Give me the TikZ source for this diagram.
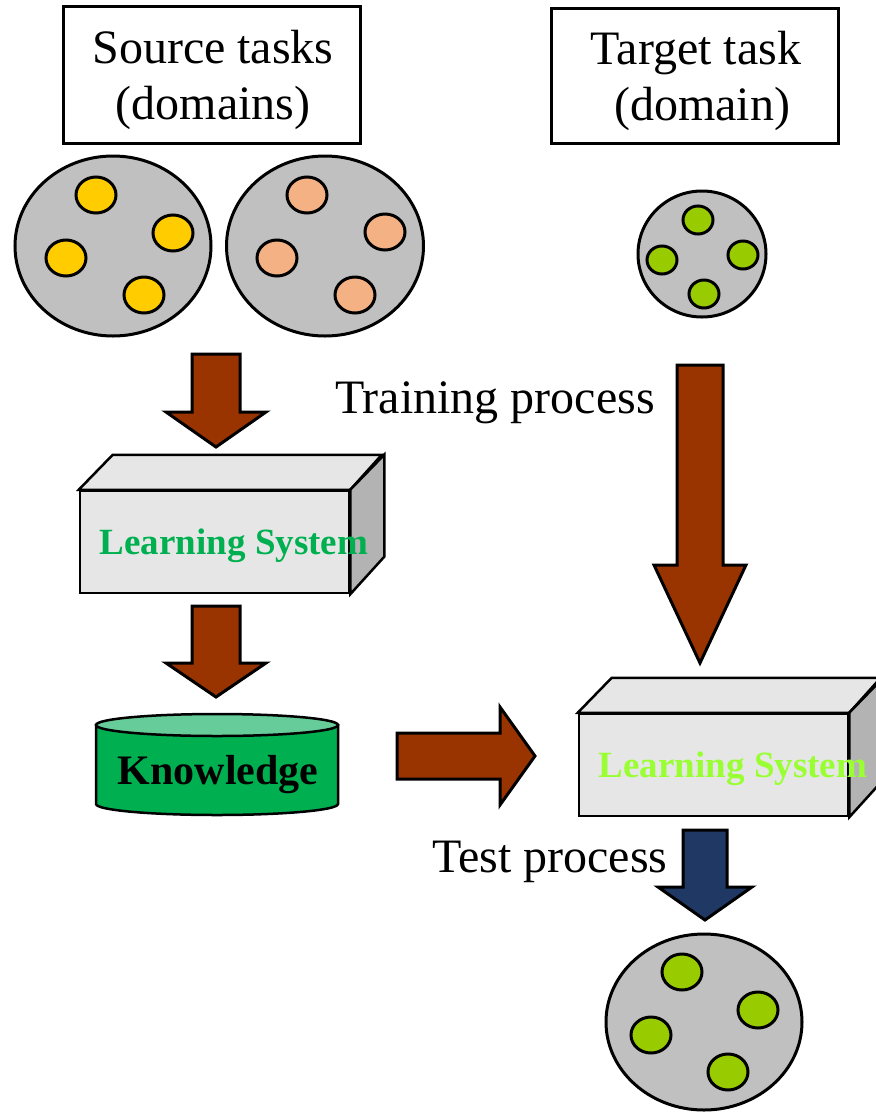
\documentclass[tikz,border=0pt]{standalone}
\usepackage{fontspec}
\setmainfont{Liberation Serif}
\usetikzlibrary{shapes.geometric}

\definecolor{poolgray}{HTML}{C0C0C0}
\definecolor{srcyellow}{HTML}{FFCC00}
\definecolor{srcsalmon}{HTML}{F4B183}
\definecolor{tgtgreen}{HTML}{99CC00}
\definecolor{arrowbrown}{HTML}{993300}
\definecolor{arrownavy}{HTML}{1F3864}
\definecolor{boxfront}{HTML}{E6E6E6}
\definecolor{boxside}{HTML}{B3B3B3}
\definecolor{knowgreen}{HTML}{00B050}
\definecolor{knowtop}{HTML}{66CC99}
\definecolor{lsgreen}{HTML}{00B050}
\definecolor{lslime}{HTML}{99FF33}

\tikzset{
    titlebox/.style={draw, line width=3pt, fill=white, inner sep=0pt},
    titletext/.style={align=center, inner sep=0pt, font=\fontsize{48}{56}\selectfont},
    pool/.style={ellipse, draw, line width=3pt, fill=poolgray, inner sep=0pt},
    sample/.style={ellipse, draw, line width=3pt, inner sep=0pt, fill=#1,
        minimum width=40pt, minimum height=36pt},
    smallsample/.style={sample=#1, minimum width=30pt, minimum height=28pt},
    blockarrow/.style={draw, line width=3pt, line join=miter},
    lsface/.style={draw, line width=2.5pt, fill=boxfront},
    lstext/.style={font=\bfseries\fontsize{37}{40}\selectfont},
    proc/.style={font=\fontsize{48}{56}\selectfont, inner sep=0pt}
}

% down block arrow: x, top, head start, tip, half shaft, half head, colour
\newcommand{\downblock}[7]{%
    \filldraw[blockarrow, fill=#7] (#1-#5,#2) -- (#1+#5,#2) -- (#1+#5,#3) -- (#1+#6,#3)
        -- (#1,#4) -- (#1-#6,#3) -- (#1-#5,#3) -- cycle;}

% learning system box: front node name, centre x, centre y
\newcommand{\lsbox}[3]{%
    \node[lsface, minimum width=269pt, minimum height=102pt, inner sep=0pt] (#1) at (#2,#3) {};
    \filldraw[lsface] (#1.north west) -- ++(34,35) -- ++(269,0) -- (#1.north east) -- cycle;
    \filldraw[lsface, fill=boxside] (#1.north east) -- ++(34,35) -- ++(0,-102) -- (#1.south east) -- cycle;}

\begin{document}
\begin{tikzpicture}[x=1pt,y=1pt]
    \useasboundingbox (0,0) rectangle (876,-1112);

    % titles
    \node[titlebox, minimum width=297pt, minimum height=137pt] (srctitle) at (211.5,-74.5) {};
    \node[titletext] (srclabel) at (213,-80) {Source tasks\\(domains)};
    \node[titlebox, minimum width=287pt, minimum height=135pt] (tgttitle) at (694.5,-75.5) {};
    \node[titletext] (tgtlabel) at (696,-81) {Target task\\\ (domain)};

    % source domains
    \node[pool, minimum width=196pt, minimum height=180pt] (src1) at (113,-246) {};
    \node[sample=srcyellow] (s11) at (96,-195) {};
    \node[sample=srcyellow] (s12) at (173,-233) {};
    \node[sample=srcyellow] (s13) at (66,-258) {};
    \node[sample=srcyellow] (s14) at (144,-295) {};
    \node[pool, minimum width=197pt, minimum height=180pt] (src2) at (325,-246) {};
    \node[sample=srcsalmon] (s21) at (307,-195) {};
    \node[sample=srcsalmon] (s22) at (385,-232) {};
    \node[sample=srcsalmon] (s23) at (277,-258) {};
    \node[sample=srcsalmon] (s24) at (355,-295) {};

    % target domain
    \node[pool, minimum width=128pt, minimum height=126pt] (tgt) at (702,-254) {};
    \node[smallsample=tgtgreen] (t1) at (698,-220) {};
    \node[smallsample=tgtgreen] (t2) at (743,-255) {};
    \node[smallsample=tgtgreen] (t3) at (662,-260) {};
    \node[smallsample=tgtgreen] (t4) at (704,-294) {};

    % left column
    \downblock{216}{-354}{-412}{-447}{24}{50}{arrowbrown}
    \lsbox{ls1}{214.5}{-542}
    \node[lstext, text=lsgreen] (ls1text) at (234,-546) {Learning System};
    \downblock{216}{-606}{-663}{-697}{24}{50}{arrowbrown}

    % knowledge
    \filldraw[line width=2.5pt, fill=knowgreen] (96,-725) -- (96,-804)
        arc[start angle=180, end angle=360, x radius=121pt, y radius=11pt] -- (338,-725) -- cycle;
    \filldraw[line width=2.5pt, fill=knowtop] (217,-725) ellipse[x radius=121pt, y radius=11pt];
    \node[font=\bfseries\fontsize{42}{44}\selectfont] (know) at (218,-775) {Knowledge};

    \filldraw[blockarrow, fill=arrowbrown] (397,-733) -- (500,-733) -- (500,-707) -- (535,-756)
        -- (500,-805) -- (500,-779) -- (397,-779) -- cycle;

    % right column
    \node[proc] (train) at (495,-403) {Training process};
    \downblock{700}{-365}{-565}{-663}{23}{46}{arrowbrown}
    \lsbox{ls2}{713.5}{-765}
    \node[lstext, text=lslime] (ls2text) at (733,-769) {Learning System};
    \node[proc] (test) at (550,-862) {Test process};
    \downblock{705}{-830}{-887}{-920}{22}{47}{arrownavy}

    % test domain
    \node[pool, minimum width=196pt, minimum height=176pt] (res) at (704,-1022) {};
    \node[sample=tgtgreen] (r1) at (682,-972) {};
    \node[sample=tgtgreen] (r2) at (758,-1010) {};
    \node[sample=tgtgreen] (r3) at (651,-1035) {};
    \node[sample=tgtgreen] (r4) at (728,-1072) {};
\end{tikzpicture}
\end{document}
